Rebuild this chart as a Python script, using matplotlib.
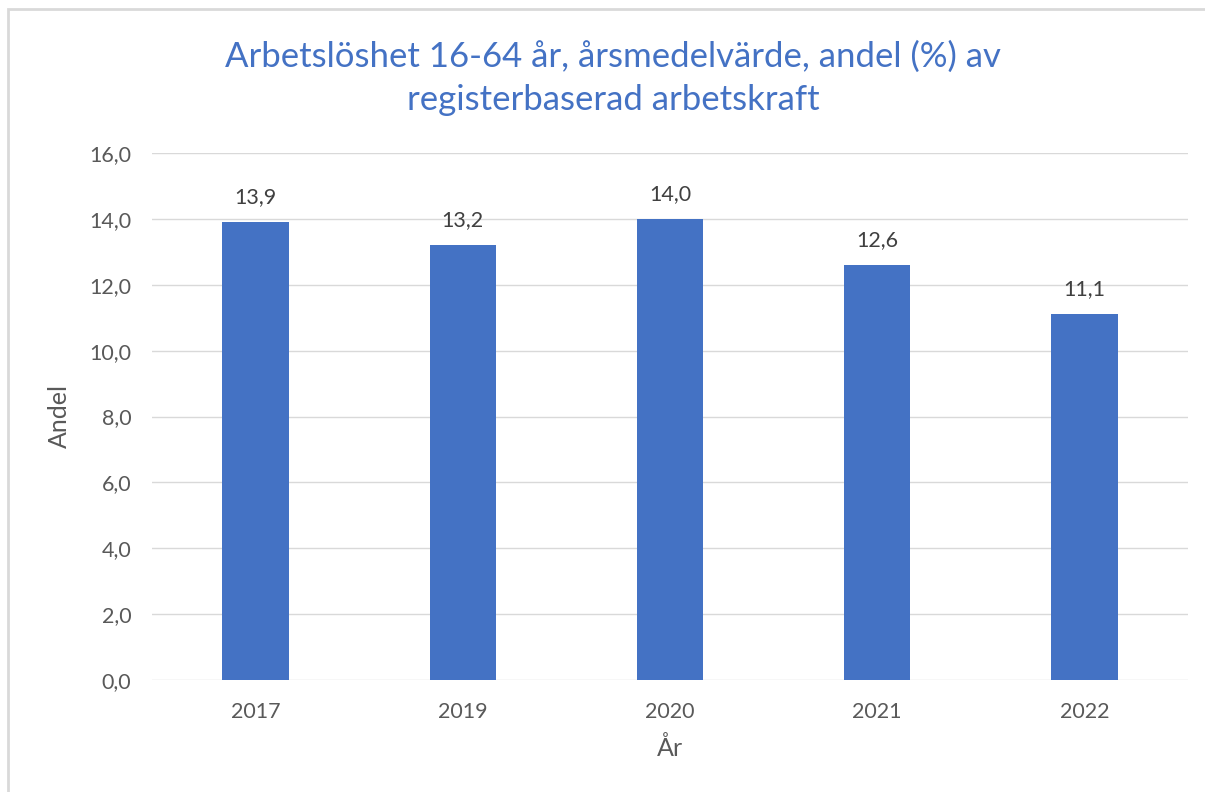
import matplotlib
matplotlib.use("Agg")
import matplotlib.pyplot as plt
from matplotlib.patches import Rectangle

years = ["2017", "2019", "2020", "2021", "2022"]
values = [13.9, 13.2, 14.0, 12.6, 11.1]
yticks = [0, 2, 4, 6, 8, 10, 12, 14, 16]

plt.rcParams['font.family'] = ['Lato', 'DejaVu Sans']

W, H = 1205, 792
fig = plt.figure(figsize=(W/100, H/100), dpi=100)
ax = fig.add_axes([152/W, 1-680/H, (1188-152)/W, (680-153)/H])

x = list(range(len(years)))
ax.bar(x, values, width=0.32, color="#4472C4", zorder=3)
ax.set_xlim(-0.5, len(years)-0.5)
ax.set_ylim(0, 16)
ax.set_yticks(yticks)
ax.set_yticklabels([f"{v:.1f}".replace(".", ",") for v in yticks])
ax.set_xticks(x)
ax.set_xticklabels(years)
ax.tick_params(axis='both', length=0, labelsize=15.5, colors="#595959")
ax.tick_params(axis='y', pad=15)
ax.tick_params(axis='x', pad=16)
ax.grid(axis='y', color="#D9D9D9", linewidth=1, zorder=0)
for s in ax.spines.values():
    s.set_visible(False)

for xi, v in zip(x, values):
    ax.annotate(f"{v:.1f}".replace(".", ","), (xi, v), xytext=(0, 11),
                textcoords="offset points", ha="center", va="bottom",
                fontsize=15.5, color="#404040")

ax.set_ylabel("Andel", fontsize=18, color="#595959", labelpad=13)
ax.set_xlabel("År", fontsize=18, color="#595959", labelpad=10)

fig.text(613/W, 1-78/H, "Arbetslöshet 16-64 år, årsmedelvärde, andel (%) av\nregisterbaserad arbetskraft",
         ha="center", va="center", fontsize=25, color="#4472C4", linespacing=1.42)

fig.patches.append(Rectangle((8/W, -0.1), 1.2, 1.1 - 9/H, transform=fig.transFigure,
                             fill=False, edgecolor="#D9D9D9", linewidth=2))

fig.savefig("out.png", dpi=100, facecolor="white")
